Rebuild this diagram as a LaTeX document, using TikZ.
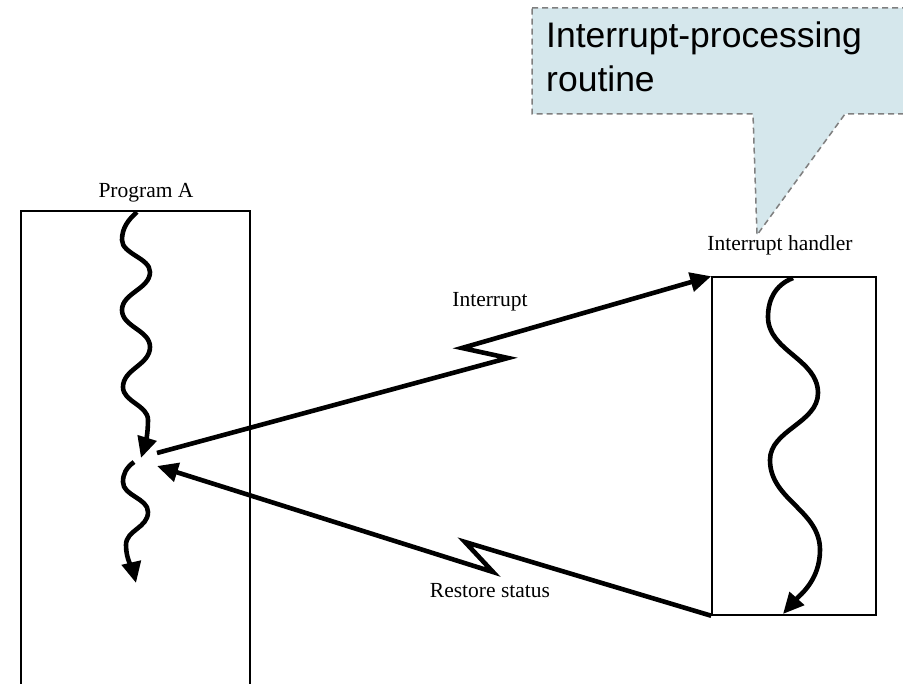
\documentclass[tikz,border=0pt]{standalone}
\usepackage{fontspec}
\setmainfont{Liberation Serif}
\newfontfamily\calloutfont{Liberation Sans}
\usetikzlibrary{arrows.meta}
\definecolor{calloutfill}{HTML}{D5E7EC}
\definecolor{calloutline}{HTML}{7F7F7F}
\tikzset{
  boxframe/.style={draw=black, line width=1.5pt, minimum width=#1, inner sep=0pt, fill=none},
  lbl/.style={anchor=base, inner sep=0pt, font=\fontsize{21.5}{24}\selectfont},
  thick flow/.style={line width=4.6pt, -{Triangle[length=21pt,width=19pt]}},
  calloutshape/.style={fill=calloutfill, draw=calloutline, line width=1.5pt, dash pattern=on 6pt off 4pt},
  callouttext/.style={anchor=base west, inner sep=0pt, font=\calloutfont\fontsize{35.5}{42}\selectfont}
}
\begin{document}
\begin{tikzpicture}[x=1pt,y=-1pt]
\clip (0,0) rectangle (903,684);
\fill[white] (0,0) rectangle (903,684);

% boxes
\node[boxframe=229pt, minimum height=560pt] (progA) at (135.5,491) {};
\node[boxframe=164pt, minimum height=338pt] (handler) at (794,446) {};

% labels
\node[lbl] (lblA) at (146,198) {Program A};
\node[lbl] (lblH) at (780,251) {Interrupt handler};
\node[lbl] (lblI) at (490,307) {Interrupt};
\node[lbl] (lblR) at (490,597) {Restore status};

% named points on program A flow
\coordinate (intStart) at (157,453);
\coordinate (retTip) at (157,466);

% program A wave (upper)
\draw[thick flow] (137,212) .. controls (128,220) and (122,228) .. (122,240)
  .. controls (122,254) and (150,258) .. (150,272)
  .. controls (150,289) and (122,293) .. (122,310)
  .. controls (122,327) and (150,330) .. (150,347)
  .. controls (150,365) and (123,369) .. (123,387)
  .. controls (123,402) and (148,405) .. (148,420)
  .. controls (148,435) and (145,445) .. (141,458);
% program A wave (lower)
\draw[thick flow] (134,462) .. controls (126,468) and (123,474) .. (123,482)
  .. controls (123,496) and (148,498) .. (148,512)
  .. controls (148,528) and (126,530) .. (126,545)
  .. controls (126,560) and (133,570) .. (136,583);
% handler wave
\draw[thick flow] (793,278) .. controls (775,285) and (768,300) .. (768,317)
  .. controls (768,351) and (818,359) .. (818,393)
  .. controls (818,423) and (770,430) .. (770,460)
  .. controls (770,500) and (820,510) .. (820,550)
  .. controls (820,580) and (800,595) .. (783,614);

% interrupt
\draw[thick flow, line join=miter] (intStart) -- (508,358) -- (462,348) -- (handler.north west);
% restore status
\draw[thick flow, line join=miter] (handler.south west) -- (465,542) -- (493,572) -- (retTip);

% callout
\path[calloutshape] (532,8) -- (915,8) -- (915,114) -- (845,114) -- (757,235) -- (753,114) -- (532,114) -- cycle;
\node[callouttext] (cl1) at (546,48) {Interrupt-processing};
\node[callouttext] (cl2) at (546,92) {routine};
\end{tikzpicture}
\end{document}
